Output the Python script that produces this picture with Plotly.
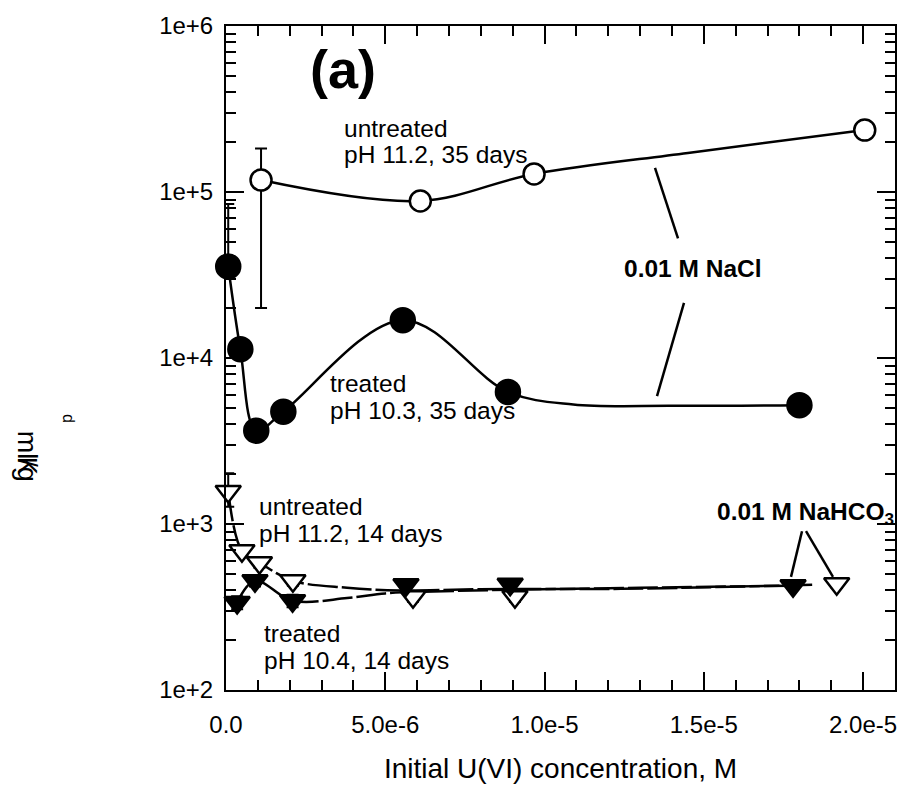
import plotly.graph_objects as go

# ---------------- data ----------------
# 0.01 M NaCl, treated, pH 10.3, 35 days (filled circles)
x_nacl_tr = [0.07e-6, 0.45e-6, 0.95e-6, 1.8e-6, 5.55e-6, 8.85e-6, 18.0e-6]
y_nacl_tr = [35600, 11300, 3650, 4750, 16900, 6250, 5200]
ep_nacl_tr = [49000, 1600, 450, 350, 700, 250, 150]
em_nacl_tr = [4500, 1400, 400, 350, 700, 250, 150]
# smooth curve drawn through the treated NaCl data
cx_nacl_tr = [0.07e-6, 0.45e-6, 0.95e-6, 1.8e-6, 5.55e-6, 8.85e-6, 10.9e-6, 14.0e-6, 18.0e-6]
cy_nacl_tr = [35600, 11300, 3650, 4750, 16900, 6250, 5250, 5150, 5200]

# 0.01 M NaCl, untreated, pH 11.2, 35 days (open circles)
x_nacl_un = [1.1e-6, 6.1e-6, 9.67e-6, 20.05e-6]
y_nacl_un = [118000, 88300, 128500, 236000]
ep_nacl_un = [65000, 3000, 3000, 4000]
em_nacl_un = [98000, 3000, 3000, 4000]
cx_nacl_un = [1.1e-6, 6.1e-6, 9.67e-6, 14.5e-6, 20.05e-6]
cy_nacl_un = [118000, 88300, 128500, 172000, 236000]

# 0.01 M NaHCO3, untreated, pH 11.2, 14 days (open triangles)
x_hco3_un = [0.07e-6, 0.5e-6, 1.05e-6, 2.1e-6, 5.87e-6, 9.07e-6, 19.17e-6]
y_hco3_un = [1570, 690, 585, 455, 365, 365, 437]
ep_hco3_un = [450, 40, 40, 30, 25, 25, 25]
em_hco3_un = [300, 40, 40, 30, 25, 25, 25]
cx_hco3_un = [0.07e-6, 0.5e-6, 1.05e-6, 2.1e-6, 3.8e-6, 5.46e-6, 7.97e-6, 12.4e-6, 18.4e-6]
cy_hco3_un = [1570, 690, 585, 455, 413, 398, 405, 407, 430]

# 0.01 M NaHCO3, treated, pH 10.4, 14 days (filled triangles)
x_hco3_tr = [0.35e-6, 0.91e-6, 2.09e-6, 5.65e-6, 8.92e-6, 17.8e-6]
y_hco3_tr = [337, 455, 345, 431, 434, 425]
ep_hco3_tr = [30, 35, 30, 25, 25, 25]
em_hco3_tr = [30, 35, 30, 25, 25, 25]
cx_hco3_tr = [0.35e-6, 0.91e-6, 2.09e-6, 3.8e-6, 5.0e-6, 6.5e-6, 9.0e-6, 13.0e-6, 17.8e-6]
cy_hco3_tr = [337, 455, 345, 358, 382, 392, 402, 413, 425]

x_tickvals = [0, 5e-6, 1e-5, 1.5e-5, 2e-5]
x_ticktext = ["0.0", "5.0e-6", "1.0e-5", "1.5e-5", "2.0e-5"]

# ---------------- geometry helpers (pixels -> paper) ----------------
W, H = 914, 809
L, R, T, B = 226, 895, 21, 690
def px(x):
    return (x - L) / (R - L)
def py(y):
    return (B - y) / (B - T)

FONT = "Liberation Sans, Arial, sans-serif"

fig = go.Figure()

def add_curve(cx, cy, dash):
    fig.add_trace(go.Scatter(
        x=cx, y=cy, mode="lines",
        line=dict(color="black", width=2.5, shape="spline", smoothing=1.0, dash=dash),
        showlegend=False, hoverinfo="skip",
    ))

def add_points(x, y, ep, em, symbol, fill, size):
    fig.add_trace(go.Scatter(
        x=x, y=y, mode="markers",
        marker=dict(symbol=symbol, size=size, color="black" if fill else "white",
                    line=dict(color="black", width=2.5)),
        error_y=dict(type="data", symmetric=False, array=ep, arrayminus=em,
                     color="black", thickness=2, width=6),
        showlegend=False, cliponaxis=False,
    ))

add_curve(cx_nacl_tr, cy_nacl_tr, "solid")
add_curve(cx_nacl_un, cy_nacl_un, "solid")
add_curve(cx_hco3_un, cy_hco3_un, "30px,4px")
add_curve(cx_hco3_tr, cy_hco3_tr, "30px,4px")
add_points(x_nacl_tr, y_nacl_tr, ep_nacl_tr, em_nacl_tr, "circle", True, 24)
add_points(x_nacl_un, y_nacl_un, ep_nacl_un, em_nacl_un, "circle", False, 21)
add_points(x_hco3_un, y_hco3_un, ep_hco3_un, em_hco3_un, "triangle-down", False, 22)
add_points(x_hco3_tr, y_hco3_tr, ep_hco3_tr, em_hco3_tr, "triangle-down", True, 22)

ann = []
def text(xp, yp, s, size=24.5, bold=False, anchor="left", angle=0):
    if bold:
        s = "<b>" + s + "</b>"
    ann.append(dict(x=px(xp), y=py(yp), xref="paper", yref="paper", text=s,
                    showarrow=False, xanchor=anchor, yanchor="middle",
                    textangle=angle,
                    font=dict(family=FONT, size=size, color="black")))

text(343, 64, "(a)", size=54, bold=True, anchor="center")
text(342, 124, "untreated")
text(342, 150, "pH 11.2, 35 days")
text(328, 381, "treated")
text(328, 408, "pH 10.3, 35 days")
text(257, 505, "untreated")
text(257, 532, "pH 11.2, 14 days")
text(262, 633, "treated")
text(262, 660, "pH 10.4, 14 days")
text(693, 265, "0.01 M NaCl", size=24.5, bold=True, anchor="center")
text(805, 512, "0.01 M NaHCO<sub>3</sub>", size=24.5, bold=True, anchor="center")
# y-axis title as drawn in the original (rotated pieces)
text(27, 454, "ml/g", size=27, anchor="center", angle=90)
text(27, 464, "K", size=27, anchor="center", angle=90)
text(69, 416, "d", size=16, anchor="center", angle=90)

shapes = []
def seg(x0, y0, x1, y1):
    shapes.append(dict(type="line", xref="paper", yref="paper",
                       x0=px(x0), y0=py(y0), x1=px(x1), y1=py(y1),
                       line=dict(color="black", width=2.5)))
seg(655, 164, 678, 235)
seg(684, 300, 657, 394)
seg(802, 530, 791, 576)
seg(806, 530, 833, 576)

fig.update_layout(
    width=W, height=H,
    margin=dict(l=L, r=W - R, t=T, b=H - B),
    paper_bgcolor="white", plot_bgcolor="white",
    annotations=ann, shapes=shapes,
    font=dict(family=FONT, color="black"),
)
fig.update_xaxes(
    range=[0, 2.1e-5], tickvals=x_tickvals, ticktext=x_ticktext,
    ticks="inside", ticklen=18, tickwidth=2, tickcolor="black",
    showline=True, linewidth=2, linecolor="black", mirror="ticks",
    showgrid=False, zeroline=False,
    tickfont=dict(family=FONT, size=24, color="black"), ticklabelstandoff=12,
    minor=dict(dtick=1e-6, ticks="inside", ticklen=10, tickwidth=2,
               tickcolor="black", showgrid=False),
    title=dict(text="Initial U(VI) concentration, M", standoff=22,
               font=dict(family=FONT, size=28, color="black")),
)
fig.update_yaxes(
    type="log", range=[2, 6], dtick=1, tickformat=".0e",
    ticks="inside", ticklen=18, tickwidth=2, tickcolor="black",
    showline=True, linewidth=2, linecolor="black", mirror="ticks",
    showgrid=False, zeroline=False,
    tickfont=dict(family=FONT, size=24, color="black"), ticklabelstandoff=6,
    minor=dict(dtick="D1", ticks="inside", ticklen=10, tickwidth=2,
               tickcolor="black", showgrid=False),
)

fig.write_html("out.html")
